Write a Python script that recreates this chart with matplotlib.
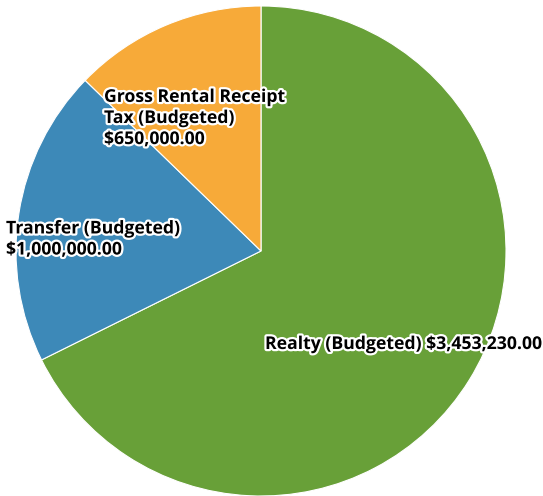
import matplotlib
matplotlib.use("Agg")
import matplotlib.pyplot as plt
import matplotlib.patheffects as pe

categories = ["Realty (Budgeted)", "Transfer (Budgeted)", "Gross Rental Receipt\nTax (Budgeted)"]
values = [3453230.00, 1000000.00, 650000.00]
colors = ["#68a038", "#3d89b8", "#f7aa39"]

W, H = 543, 496
fig = plt.figure(figsize=(W / 100, H / 100), dpi=100)
cx, cy, r = 261, 251, 245
ax = fig.add_axes([(cx - r) / W, (H - cy - r) / H, 2 * r / W, 2 * r / H])
ax.pie(values, colors=colors, startangle=90, counterclock=False, radius=1,
       wedgeprops=dict(edgecolor="white", linewidth=0.8))
ax.set_xlim(-1, 1)
ax.set_ylim(-1, 1)
ax.set_aspect("equal")
ax.axis("off")


def px(x, y):
    return (x - cx) / r, (cy - y) / r


def money(v):
    return "${:,.2f}".format(v)


label_spots = [((265, 344), "single"), ((6, 239), "multi"), ((104, 118), "multi")]
stroke = [pe.withStroke(linewidth=3.2, foreground="white")]
for (pos, mode), name, v in zip(label_spots, categories, values):
    text = f"{name} {money(v)}" if mode == "single" else f"{name}\n{money(v)}"
    x, y = px(*pos)
    ax.text(x, y, text, ha="left", va="center", fontsize=12.7, fontweight="bold",
            family="Open Sans", color="black", linespacing=1.22,
            path_effects=stroke, clip_on=False)

fig.savefig("out.png", dpi=100)
